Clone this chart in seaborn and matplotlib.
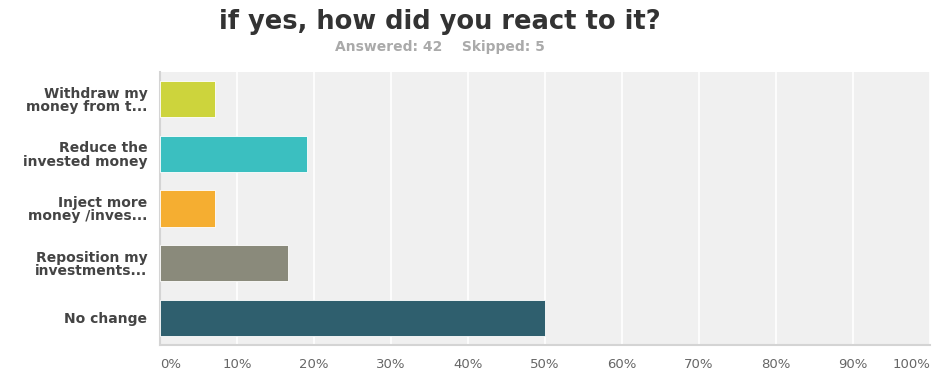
import matplotlib
matplotlib.use("Agg")
import matplotlib.pyplot as plt
import seaborn as sns
import pandas as pd

categories = ["Withdraw my\nmoney from t...", "Reduce the\ninvested money",
              "Inject more\nmoney /inves...", "Reposition my\ninvestments...", "No change"]
values = [7.14, 19.05, 7.14, 16.67, 50.0]
colors = ["#cdd43c", "#3bbfc0", "#f5ae31", "#8a8a7b", "#2f5f6e"]
xticks = [0, 10, 20, 30, 40, 50, 60, 70, 80, 90, 100]
xticklabels = [f"{t}%" for t in xticks]
title = "if yes, how did you react to it?"
subtitle = "Answered: 42    Skipped: 5"

sns.set_theme(style="white")
plt.rcParams['font.family'] = ['DejaVu Sans']

df = pd.DataFrame({"cat": categories, "val": values})

fig = plt.figure(figsize=(9.34, 3.71), dpi=100)
ax = fig.add_axes([160/934, 1-345/371, (930-160)/934, (345-72)/371])
ax.set_facecolor("#f0f0f0")

sns.barplot(data=df, x="val", y="cat", hue="cat", palette=colors, legend=False,
            orient="h", width=0.66, ax=ax, edgecolor="white", linewidth=0.6,
            saturation=1, zorder=3)

ax.set_xlim(0, 100)
ax.set_ylim(4.5, -0.5)
ax.set_xticks(xticks)
ax.set_xticklabels(xticklabels, fontsize=9.5, color="#666666")
labs = ax.get_xticklabels()
labs[0].set_ha("left")
labs[-1].set_ha("right")
ax.tick_params(axis="x", length=0, pad=9)
ax.tick_params(axis="y", length=0, pad=9)
for lab in ax.get_yticklabels():
    lab.set_fontweight("bold")
    lab.set_fontsize(10)
    lab.set_color("#444444")
    lab.set_linespacing(0.95)
ax.grid(axis="x", color="white", linewidth=1.2, zorder=0)
ax.set_axisbelow(True)
ax.set_xlabel("")
ax.set_ylabel("")
for s in ["top", "right"]:
    ax.spines[s].set_visible(False)
for s in ["left", "bottom"]:
    ax.spines[s].set_color("#d4d4d4")
    ax.spines[s].set_linewidth(1.5)

fig.text(440/934, 1-22/371, title, ha="center", va="center", fontsize=18.5,
         fontweight="bold", color="#333333")
fig.text(440/934, 1-47/371, subtitle, ha="center", va="center", fontsize=10,
         fontweight="bold", color="#aaaaaa")

fig.savefig("out.png", dpi=100)
